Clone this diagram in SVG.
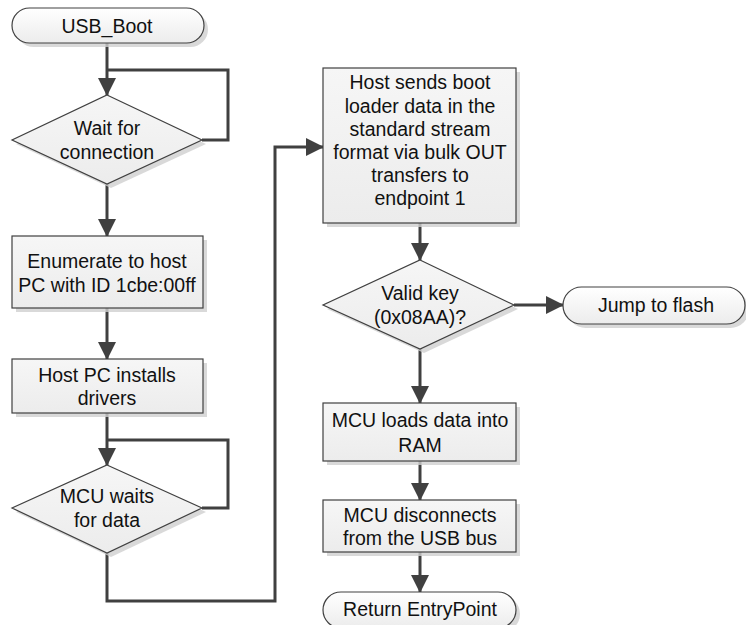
<svg xmlns="http://www.w3.org/2000/svg" width="746" height="625" viewBox="0 0 746 625">
<defs>
<linearGradient id="gTerm" x1="0" y1="0" x2="0" y2="1">
<stop offset="0" stop-color="#ffffff"/>
<stop offset="1" stop-color="#ececec"/>
</linearGradient>
<linearGradient id="gBox" x1="0" y1="0" x2="0" y2="1">
<stop offset="0" stop-color="#f6f6f6"/>
<stop offset="1" stop-color="#ececec"/>
</linearGradient>
<marker id="arr" markerUnits="userSpaceOnUse" markerWidth="18" markerHeight="18" viewBox="0 0 18 18" refX="17" refY="9" orient="auto">
<path d="M0,0 L18,9 L0,18 Z" fill="#404040"/>
</marker>
</defs>
<style>
.shadow{fill:#cfcfcf;opacity:0.8}
.term{fill:url(#gTerm);stroke:#404040;stroke-width:1.2}
.box{fill:url(#gBox);stroke:#404040;stroke-width:1.2}
.dia{fill:url(#gBox);stroke:#404040;stroke-width:1.2}
.t{font-family:"Liberation Sans",Arial,sans-serif;font-size:19.5px;fill:#111;text-anchor:middle}
.c{fill:none;stroke:#404040;stroke-width:3}
.ca{fill:none;stroke:#404040;stroke-width:3;marker-end:url(#arr)}
</style>
<rect width="746" height="625" fill="#ffffff"/>

<g id="connectors">
<path class="ca" d="M107,43 V95"/>
<path class="c" d="M202,140 H228 V70 H107"/>
<path class="ca" d="M107,184 V236"/>
<path class="ca" d="M107,308 V359"/>
<path class="ca" d="M107,413 V465"/>
<path class="c" d="M202,508 H228 V440 H107"/>
<path class="ca" d="M107,553 V601 H275 V147 H323"/>
<path class="ca" d="M420,223 V260"/>
<path class="ca" d="M514,305 H563"/>
<path class="ca" d="M420,349 V403"/>
<path class="ca" d="M420,461 V500"/>
<path class="ca" d="M420,552 V592"/>
</g>

<g id="usb_boot">
<rect class="shadow" x="16" y="12" width="192" height="35" rx="17.5"/>
<rect class="term" x="12" y="8" width="192" height="35" rx="17.5"/>
<text class="t" x="107" y="33">USB_Boot</text>
</g>

<g id="wait_connection">
<polygon class="shadow" points="111,99 206,144 111,188 16,144"/>
<polygon class="dia" points="107,95 202,140 107,184 12,140"/>
<text class="t" x="107" y="135">Wait for</text>
<text class="t" x="107" y="159">connection</text>
</g>

<g id="enumerate">
<rect class="shadow" x="16" y="240" width="191" height="72"/>
<rect class="box" x="12" y="236" width="191" height="72"/>
<text class="t" x="107" y="268">Enumerate to host</text>
<text class="t" x="107" y="292">PC with ID 1cbe:00ff</text>
</g>

<g id="host_installs">
<rect class="shadow" x="16" y="363" width="191" height="54"/>
<rect class="box" x="12" y="359" width="191" height="54"/>
<text class="t" x="107" y="382">Host PC installs</text>
<text class="t" x="107" y="405">drivers</text>
</g>

<g id="mcu_waits">
<polygon class="shadow" points="111,469 206,512 111,557 16,512"/>
<polygon class="dia" points="107,465 202,508 107,553 12,508"/>
<text class="t" x="107" y="503">MCU waits</text>
<text class="t" x="107" y="527">for data</text>
</g>

<g id="host_sends">
<rect class="shadow" x="327" y="72" width="193" height="155"/>
<rect class="box" x="323" y="68" width="193" height="155"/>
<text class="t" x="420" y="89">Host sends boot</text>
<text class="t" x="420" y="113">loader data in the</text>
<text class="t" x="420" y="136">standard stream</text>
<text class="t" x="420" y="159">format via bulk OUT</text>
<text class="t" x="420" y="182">transfers to</text>
<text class="t" x="420" y="205">endpoint 1</text>
</g>

<g id="valid_key">
<polygon class="shadow" points="424,264 518,309 424,353 327,309"/>
<polygon class="dia" points="420,260 514,305 420,349 323,305"/>
<text class="t" x="420" y="300">Valid key</text>
<text class="t" x="420" y="324">(0x08AA)?</text>
</g>

<g id="jump_flash">
<rect class="shadow" x="567" y="291" width="182" height="37" rx="18.5"/>
<rect class="term" x="563" y="287" width="182" height="37" rx="18.5"/>
<text class="t" x="656" y="312">Jump to flash</text>
</g>

<g id="mcu_loads">
<rect class="shadow" x="327" y="407" width="193" height="58"/>
<rect class="box" x="323" y="403" width="193" height="58"/>
<text class="t" x="420" y="427">MCU loads data into</text>
<text class="t" x="420" y="452">RAM</text>
</g>

<g id="mcu_disconnects">
<rect class="shadow" x="327" y="504" width="193" height="52"/>
<rect class="box" x="323" y="500" width="193" height="52"/>
<text class="t" x="420" y="522">MCU disconnects</text>
<text class="t" x="420" y="545">from the USB bus</text>
</g>

<g id="return_entry">
<rect class="shadow" x="327" y="596" width="193" height="36" rx="18"/>
<rect class="term" x="323" y="592" width="193" height="36" rx="18"/>
<text class="t" x="420" y="616">Return EntryPoint</text>
</g>
</svg>
